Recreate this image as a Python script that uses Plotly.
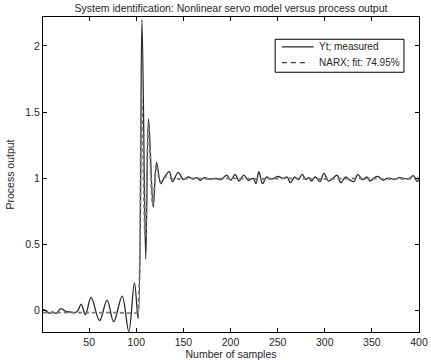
import plotly.graph_objects as go

# Measured process output (key extrema)
meas_x = [1, 4, 8, 11, 15, 20, 25, 30, 35, 38, 41.5, 46, 52, 61, 69, 76, 85, 92, 98, 102,
          106, 110, 113, 118, 121.5, 126, 130, 135, 138.5, 144.5, 150, 155, 160, 164, 168,
          172, 178, 184, 190, 196, 200, 205, 209, 214, 219, 224, 227, 230, 234, 238, 242,
          246, 250, 256, 260, 263.5, 268, 272, 276, 280, 283, 286, 290, 295, 299, 304, 308,
          313, 317, 322, 326, 331, 335, 340, 345, 348, 352, 356, 362, 366, 370, 374, 379,
          384, 389, 394, 398, 400]
meas_y = [0.01, 0.0, -0.02, -0.01, -0.02, 0.015, -0.005, -0.01, -0.015, 0.0, 0.05, -0.03,
          0.10, -0.075, 0.08, -0.083, 0.11, -0.158, 0.21, -0.06,
          2.2, 0.39, 1.45, 0.78, 1.12, 0.96, 1.01, 1.05, 0.975, 1.045, 0.99, 1.01, 0.995,
          1.005, 0.985, 1.005, 0.995, 1.0, 0.99, 1.025, 0.985, 1.03, 0.98, 1.025, 0.985,
          1.0, 0.96, 1.05, 0.96, 1.01, 0.995, 1.0, 1.015, 1.0, 1.01, 0.967, 1.01, 0.99,
          1.03, 0.99, 1.005, 0.98, 1.01, 0.975, 1.037, 0.98, 0.995, 1.024, 0.967, 1.01,
          0.99, 0.975, 1.03, 0.99, 1.01, 0.98, 1.0, 1.015, 0.985, 1.0, 1.0, 0.99, 1.005,
          1.0, 0.995, 1.02, 0.975, 0.995]

# NARX model output
narx_x = [1, 20, 50, 80, 100, 101.5, 105.5, 109.5, 113, 117.5, 121.5, 125.5, 130, 135,
          145, 160, 180, 200, 230, 260, 300, 340, 370, 400]
narx_y = [-0.015, -0.015, -0.015, -0.015, -0.015, 0.0, 1.6, 0.55, 1.42, 0.8, 1.1, 0.97,
          1.01, 1.0, 0.995, 1.0, 0.995, 1.0, 0.995, 1.0, 0.995, 1.0, 0.995, 1.0]

series_names = ["Yt; measured", "NARX; fit: 74.95%"]
x_ticks = [50, 100, 150, 200, 250, 300, 350, 400]
y_ticks = [0, 0.5, 1, 1.5, 2]
y_tick_text = ["0", "0.5", "1", "1.5", "2"]

FONT = "Liberation Sans, Arial, sans-serif"
TXT = "#262626"
FS = 10.5
LEG_FS = 10
MEAS_LINE = dict(color="#2a2a2a", width=1.3)
NARX_LINE = dict(color="#7a7a7a", width=1.8, dash="4px,3px")

fig = go.Figure()
fig.add_trace(go.Scatter(x=meas_x, y=meas_y, mode="lines", name=series_names[0],
                         line=dict(**MEAS_LINE, shape="spline", smoothing=1.0)))
fig.add_trace(go.Scatter(x=narx_x, y=narx_y, mode="lines", name=series_names[1],
                         line=dict(**NARX_LINE, shape="spline", smoothing=0.8)))

axis_common = dict(showline=True, linecolor="black", linewidth=1, mirror="ticks",
                   ticks="inside", ticklen=4, tickcolor="black", showgrid=False,
                   zeroline=False, automargin=False,
                   tickfont=dict(family=FONT, size=FS, color=TXT))

# Legend box drawn in paper coordinates (compact, like the original)
box = dict(x0=0.6175, x1=0.9600, y0=0.8246, y1=0.9293)
rows_y = [0.9049, 0.8554]
sample_x = [0.6353, 0.7200]
text_x = 0.7300

shapes = [dict(type="rect", xref="paper", yref="paper", **box,
               line=dict(color="black", width=1), fillcolor="white", layer="above")]
shapes.append(dict(type="line", xref="paper", yref="paper", x0=sample_x[0], x1=sample_x[1],
                   y0=rows_y[0], y1=rows_y[0], line=dict(color="#2a2a2a", width=1.2),
                   layer="above"))
shapes.append(dict(type="line", xref="paper", yref="paper", x0=sample_x[0], x1=sample_x[1] - 0.012,
                   y0=rows_y[1], y1=rows_y[1],
                   line=dict(color="#3a3a3a", width=1.2, dash="5px,4px"), layer="above"))
annotations = [dict(x=text_x, y=ry, xref="paper", yref="paper", text=name, showarrow=False,
                    xanchor="left", yanchor="middle",
                    font=dict(family=FONT, size=LEG_FS, color=TXT))
               for name, ry in zip(series_names, rows_y)]

fig.update_layout(
    width=431, height=360,
    margin=dict(l=42.5, r=12, t=16.7, b=28),
    paper_bgcolor="white", plot_bgcolor="white",
    font=dict(family=FONT, size=FS, color=TXT),
    title=dict(text="System identification: Nonlinear servo model versus process output",
               xref="paper", x=0.5, xanchor="center", y=0.986, yanchor="top",
               font=dict(family=FONT, size=FS, color=TXT)),
    xaxis=dict(range=[1, 400], tickvals=x_ticks,
               title=dict(text="Number of samples", standoff=4,
                          font=dict(family=FONT, size=FS, color=TXT)),
               **axis_common),
    yaxis=dict(range=[-0.161, 2.219], tickvals=y_ticks, ticktext=y_tick_text,
               title=dict(text="Process output", standoff=8,
                          font=dict(family=FONT, size=FS, color=TXT)),
               **axis_common),
    showlegend=False,
    shapes=shapes,
    annotations=annotations,
)

fig.write_html("out.html")
